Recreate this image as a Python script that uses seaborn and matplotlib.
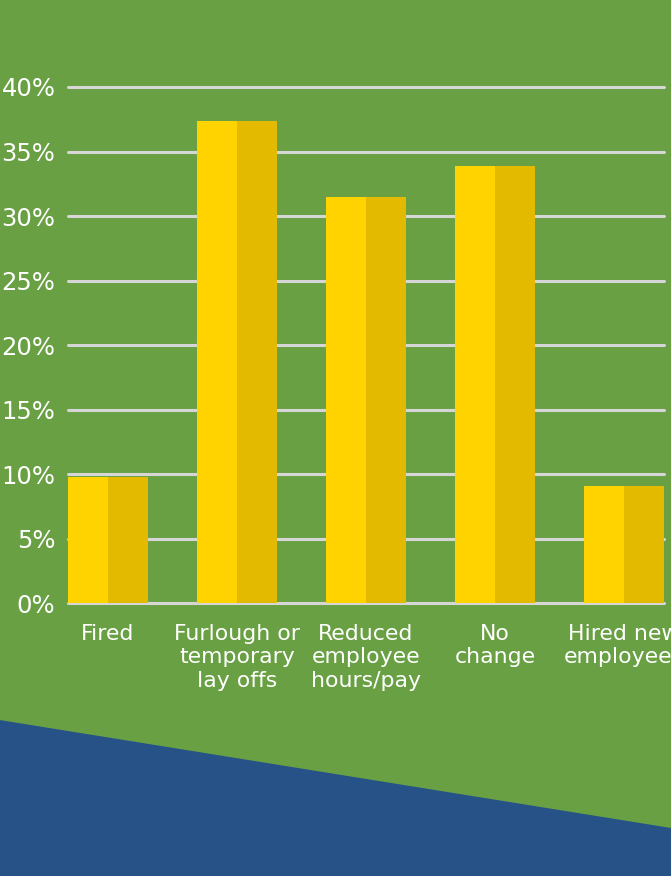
import matplotlib
matplotlib.use("Agg")
import matplotlib.pyplot as plt
from matplotlib.patches import Polygon
import seaborn as sns
import pandas as pd

categories = ["Fired", "Furlough or\ntemporary\nlay offs", "Reduced\nemployee\nhours/pay",
              "No\nchange", "Hired new\nemployees"]
values = [9.8, 37.4, 31.5, 33.9, 9.1]
yticks = [0, 5, 10, 15, 20, 25, 30, 35, 40]
ytick_labels = ["0%", "5%", "10%", "15%", "20%", "25%", "30%", "35%", "40%"]

GREEN = "#69A043"
BLUE = "#265287"
LIGHT = "#FFD300"
DARK = "#E3BA00"
GRID = "#D6D6D6"

sns.set_theme(style="white")
plt.rcParams["font.family"] = ["DejaVu Sans"]

fig = plt.figure(figsize=(6.71, 8.76), dpi=100, facecolor=GREEN)
fig.patches.append(Polygon([(0, 0.178), (1, 0.0548), (1, 0), (0, 0)], closed=True,
                           transform=fig.transFigure, facecolor=BLUE, edgecolor="none", zorder=0))

ax = fig.add_axes([0.1013, 0.3113, 0.888, 0.5894])
ax.set_facecolor("none")

df = pd.DataFrame({
    "cat": categories * 2,
    "val": values * 2,
    "half": ["a"] * len(categories) + ["b"] * len(categories),
})
sns.barplot(data=df, x="cat", y="val", hue="half", palette=[LIGHT, DARK], width=0.62,
            dodge=True, gap=0, ax=ax, legend=False, saturation=1, zorder=3, linewidth=0)

for t in yticks:
    ax.axhline(t, color=GRID, lw=2.2, zorder=1, clip_on=False)

ax.set_xlim(-0.31, 4.31)
ax.set_ylim(0, 40)
ax.set_yticks(yticks)
ax.set_yticklabels(ytick_labels, color="white", fontsize=17.5)
ax.tick_params(axis="y", length=0, pad=9)
ax.tick_params(axis="x", length=0, pad=15)
ax.set_xticks(range(len(categories)))
ax.set_xticklabels(categories, color="white", fontsize=15.8, linespacing=1.2, va="top")
ax.set_xlabel("")
ax.set_ylabel("")
for s in ax.spines.values():
    s.set_visible(False)

fig.savefig("out.png", dpi=100, facecolor=GREEN)
